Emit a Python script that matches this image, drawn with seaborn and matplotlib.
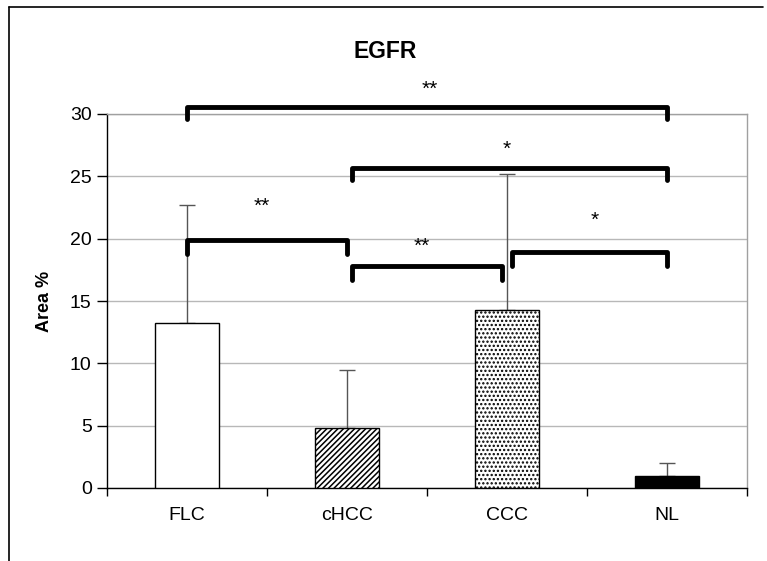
import matplotlib
matplotlib.use("Agg")
import matplotlib.pyplot as plt
import numpy as np
import pandas as pd
import seaborn as sns
from matplotlib.lines import Line2D

# chart data
groups = ["FLC", "cHCC", "CCC", "NL"]
area_mean = [13.2, 4.8, 14.3, 1.0]
area_sd = [9.5, 4.7, 10.9, 1.0]
hatches = ["", "//////", "....", ""]
fills = ["white", "white", "white", "black"]

# significance brackets: (left group, right group, bar height, leg drop, label, label height, label x)
brackets = [
    (0, 3, 30.6, 1.0, "**", 32.0, 1.52),
    (1, 3, 25.7, 1.0, "*", 27.2, 2.0),
    (0, 1, 19.9, 1.1, "**", 22.6, 0.47),
    (1, 2, 17.8, 1.1, "**", 19.4, 1.47),
    (2, 3, 18.9, 1.1, "*", 21.5, 2.55),
]

sns.set_style("white")
plt.rcParams["font.family"] = ["Liberation Sans", "DejaVu Sans"]
plt.rcParams["text.color"] = "black"
plt.rcParams["xtick.color"] = "black"
plt.rcParams["ytick.color"] = "black"
plt.rcParams["axes.labelcolor"] = "black"
plt.rcParams["hatch.linewidth"] = 1.1

df = pd.DataFrame({"group": groups, "area": area_mean})

fig = plt.figure(figsize=(7.67, 5.61), dpi=100)
ax = fig.add_axes([107 / 767, 1 - 488 / 561, (747 - 107) / 767, (488 - 114) / 561])

sns.barplot(data=df, x="group", y="area", color="white", edgecolor="black",
            linewidth=1.0, width=0.4, ax=ax, zorder=3)
for patch, h, fc in zip(ax.patches, hatches, fills):
    patch.set_facecolor(fc)
    patch.set_hatch(h)

# upper-only error bars
xs = [p.get_x() + p.get_width() / 2 for p in ax.patches]
ax.errorbar(xs, area_mean, yerr=[np.zeros(len(area_sd)), area_sd], fmt="none",
            ecolor="#555555", elinewidth=1.0, capsize=6, capthick=1.0, zorder=2)

ax.set_ylim(0, 30)
ax.set_xlim(-0.5, 3.5)
ax.set_yticks(np.arange(0, 31, 5))
ax.yaxis.grid(True, color="#b8b8b8", linewidth=1.0, zorder=0)
ax.set_axisbelow(True)

# Excel-like ticks between categories
ax.set_xticks(np.arange(-0.5, 3.6, 1.0))
ax.set_xticklabels([])
ax.set_xticks(range(len(groups)), minor=True)
ax.set_xticklabels(groups, minor=True, fontsize=14)
ax.tick_params(axis="x", which="major", direction="out", length=6, width=1, bottom=True)
ax.tick_params(axis="x", which="minor", length=0, pad=14)
ax.tick_params(axis="y", direction="out", length=7, width=1, left=True, labelsize=14, pad=4)

for s in ["left", "bottom"]:
    ax.spines[s].set_color("black")
    ax.spines[s].set_linewidth(1.0)
for s in ["top", "right"]:
    ax.spines[s].set_color("#a0a0a0")
    ax.spines[s].set_linewidth(1.0)

ax.set_xlabel("")
ax.set_ylabel("Area %", fontsize=13, fontweight="bold", labelpad=12)
fig.text(385 / 767, 1 - 52 / 561, "EGFR", fontsize=16.5, fontweight="bold", ha="center", va="center")

for g1, g2, yb, drop, lab, ylab, xlab in brackets:
    x1 = g1 + 0.03 if g1 > 0 else g1
    x2 = g2 - 0.03 if g2 == 2 else g2
    ax.plot([x1, x1, x2, x2], [yb - drop, yb, yb, yb - drop], color="black",
            linewidth=3.5, solid_capstyle="round", solid_joinstyle="round",
            clip_on=False, zorder=5)
    ax.text(xlab, ylab, lab, ha="center", va="center", fontsize=15, clip_on=False)

# outer frame of the original picture
fig.add_artist(Line2D([9 / 767, 9 / 767], [0, 1 - 7 / 561], color="black", linewidth=1.2))
fig.add_artist(Line2D([9 / 767, 763 / 767], [1 - 7 / 561, 1 - 7 / 561], color="black", linewidth=1.2))

fig.savefig("out.png", dpi=100)
